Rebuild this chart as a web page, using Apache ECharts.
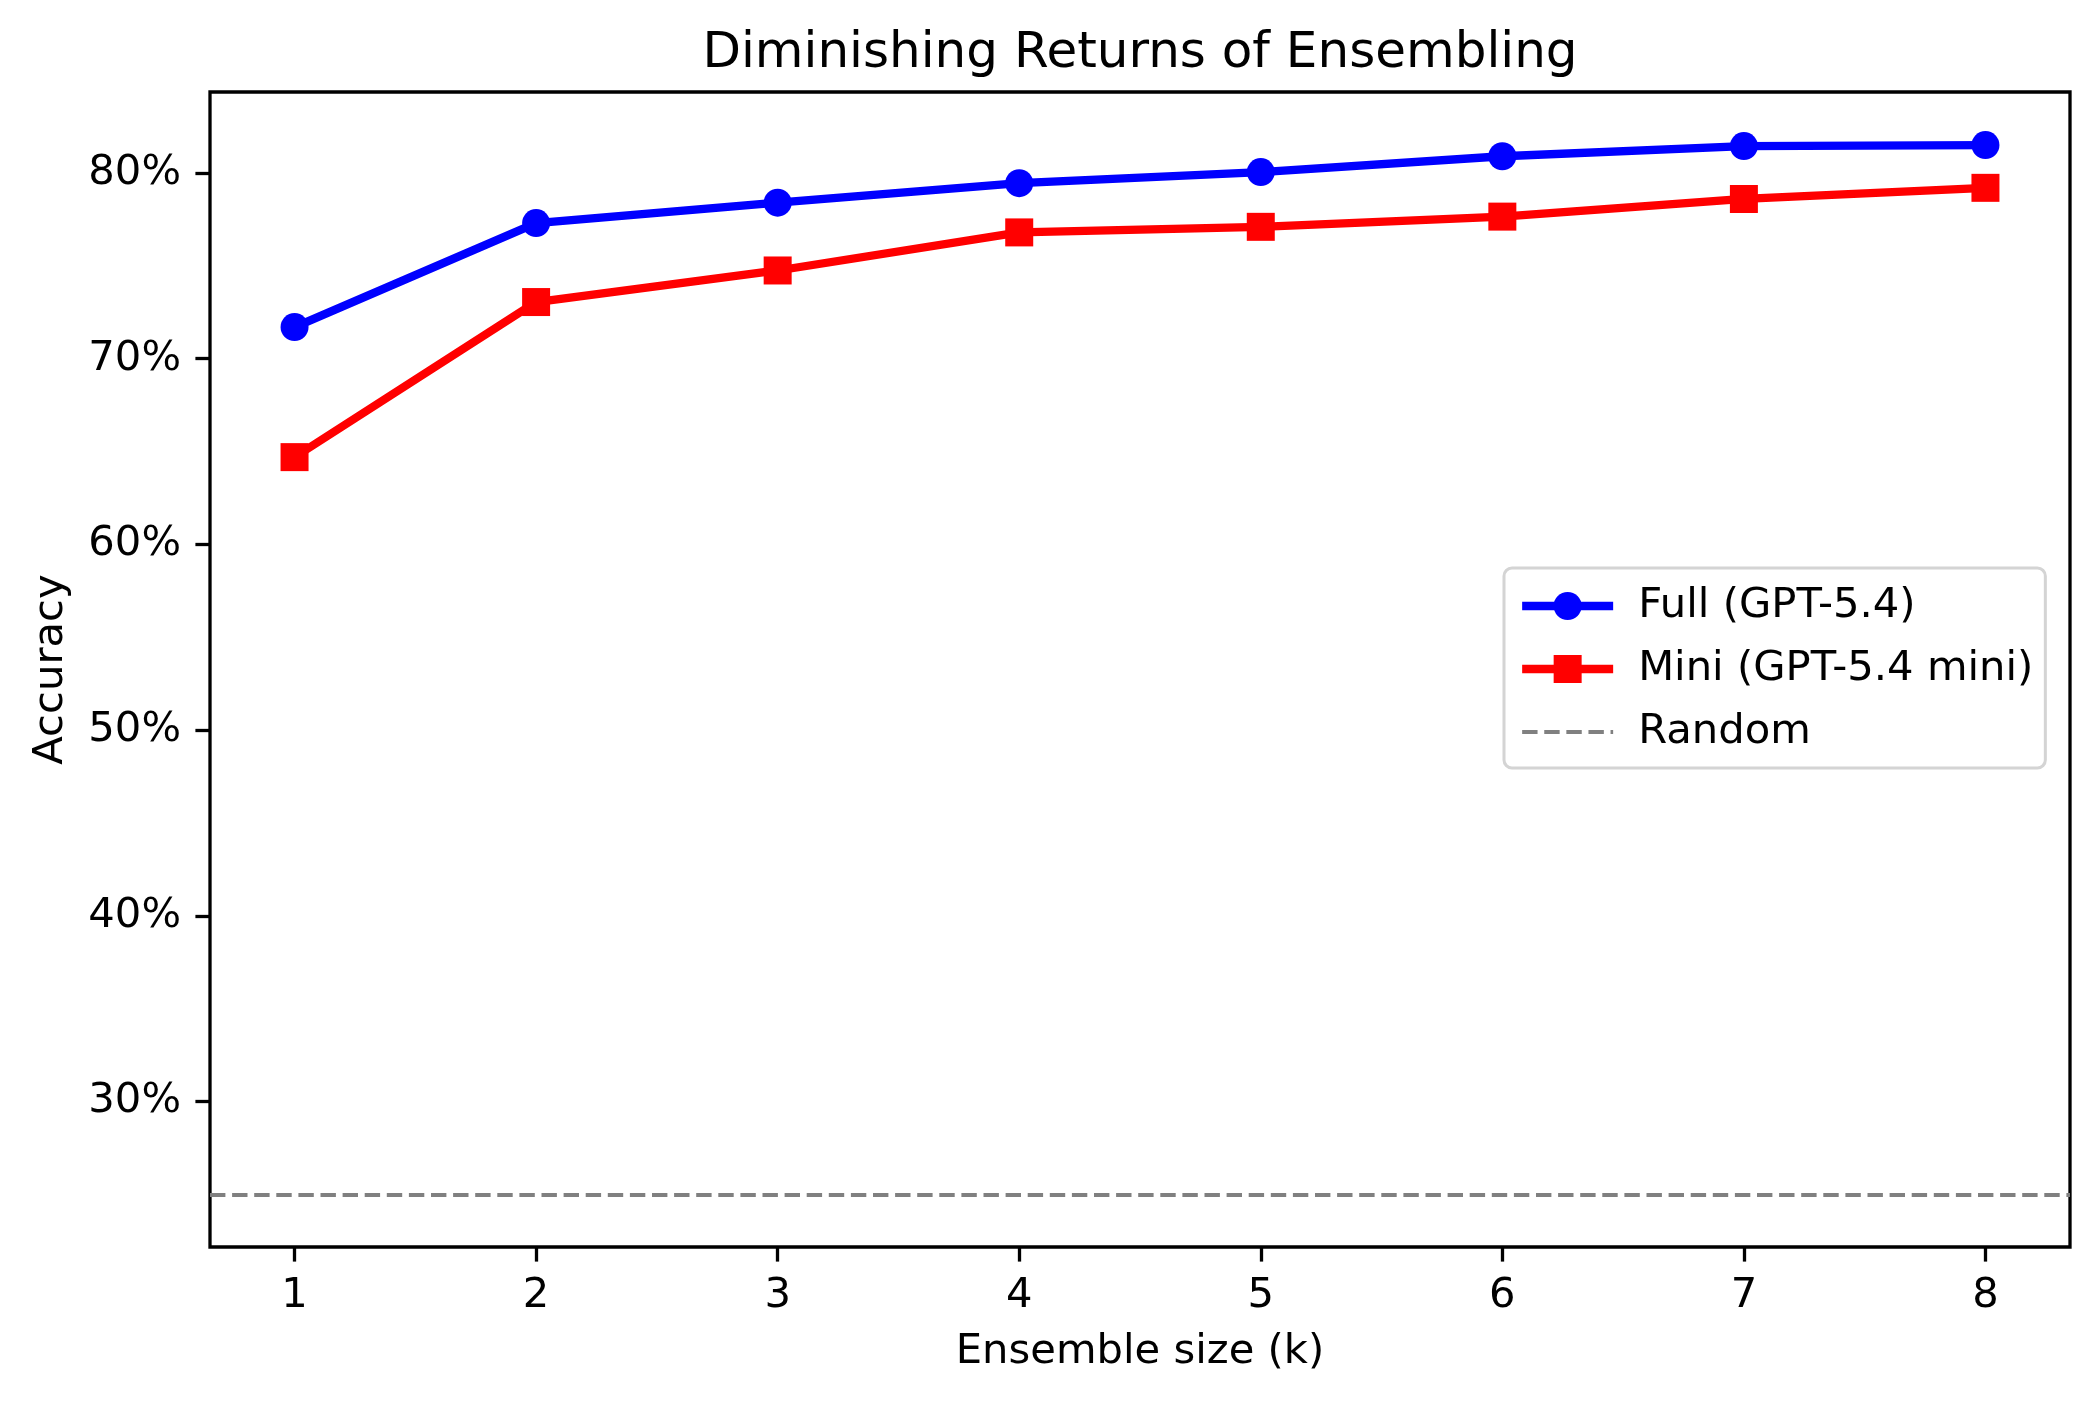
<!DOCTYPE html>
<html>
<head>
<meta charset="utf-8">
<script src="https://cdn.jsdelivr.net/npm/echarts@6/dist/echarts.min.js"></script>
<style>
html, body { margin: 0; padding: 0; background: #fff; }
#chart { width: 2100px; height: 1407px; }
</style>
</head>
<body>
<div id="chart"></div>
<script>
var myChart = echarts.init(document.getElementById('chart'));

// data (accuracy in %)
var ensembleSizes = [1, 2, 3, 4, 5, 6, 7, 8];
var fullAcc = [71.7, 77.3, 78.4, 79.45, 80.05, 80.9, 81.45, 81.5];
var miniAcc = [64.7, 73.05, 74.75, 76.8, 77.1, 77.65, 78.6, 79.2];
var randomBaseline = 25;
var yTicks = [30, 40, 50, 60, 70, 80];
var xTicks = [1, 2, 3, 4, 5, 6, 7, 8];

var fontFamily = 'DejaVu Sans';

function pairs(xs, ys) {
    var out = [];
    for (var i = 0; i < xs.length; i++) {
        out.push([xs[i], ys[i]]);
    }
    return out;
}

myChart.setOption({
    backgroundColor: '#fff',
    animation: false,
    textStyle: { fontFamily: fontFamily },
    title: {
        text: 'Diminishing Returns of Ensembling',
        left: 1135,
        top: 24,
        textAlign: 'center',
        textStyle: { fontFamily: fontFamily, fontSize: 50, fontWeight: 'normal', color: '#000' }
    },
    legend: {
        orient: 'vertical',
        left: 1504,
        top: 568,
        padding: [17, 12, 15, 14],
        itemWidth: 91,
        itemHeight: 35,
        itemGap: 21,
        backgroundColor: 'rgba(255,255,255,0.8)',
        borderColor: '#d4d4d4',
        borderWidth: 3,
        borderRadius: 8,
        textStyle: { fontFamily: fontFamily, fontSize: 41.7, lineHeight: 35, color: '#000', padding: [0, 0, 0, 20] },
        data: [
            { name: 'Full (GPT-5.4)', lineStyle: { width: 8.3 } },
            { name: 'Mini (GPT-5.4 mini)', lineStyle: { width: 8.3 } },
            { name: 'Random', lineStyle: { width: 4 }, itemStyle: { opacity: 0 } }
        ]
    },
    grid: {
        left: 210,
        right: 30,
        top: 92,
        bottom: 160,
        show: true,
        borderColor: '#000',
        borderWidth: 3.3,
        containLabel: false
    },
    xAxis: {
        type: 'value',
        min: 0.65,
        max: 8.35,
        name: 'Ensemble size (k)',
        nameLocation: 'middle',
        nameGap: 84,
        nameTextStyle: { fontFamily: fontFamily, fontSize: 41.7, color: '#000' },
        axisLine: { show: false },
        splitLine: { show: false },
        axisTick: { show: true, length: 14.6, lineStyle: { color: '#000', width: 3.3 }, customValues: xTicks },
        axisLabel: { margin: 28, fontSize: 41.7, color: '#000', fontFamily: fontFamily, customValues: xTicks }
    },
    yAxis: {
        type: 'value',
        min: 22.17,
        max: 84.36,
        name: 'Accuracy',
        nameLocation: 'middle',
        nameGap: 138,
        nameRotate: 90,
        nameTextStyle: { fontFamily: fontFamily, fontSize: 41.7, color: '#000' },
        axisLine: { show: false },
        splitLine: { show: false },
        axisTick: { show: true, length: 14.6, lineStyle: { color: '#000', width: 3.3 }, customValues: yTicks },
        axisLabel: {
            margin: 29, fontSize: 41.7, color: '#000', fontFamily: fontFamily, customValues: yTicks,
            formatter: function (v) { return v + '%'; }
        }
    },
    series: [
        {
            name: 'Full (GPT-5.4)',
            type: 'line',
            data: pairs(ensembleSizes, fullAcc),
            symbol: 'circle',
            symbolSize: 28,
            itemStyle: { color: '#0000ff' },
            lineStyle: { color: '#0000ff', width: 8.3 }
        },
        {
            name: 'Mini (GPT-5.4 mini)',
            type: 'line',
            data: pairs(ensembleSizes, miniAcc),
            symbol: 'rect',
            symbolSize: 28,
            itemStyle: { color: '#ff0000' },
            lineStyle: { color: '#ff0000', width: 8.3 }
        },
        {
            name: 'Random',
            type: 'line',
            data: [],
            symbol: 'none',
            itemStyle: { color: '#808080' },
            lineStyle: { color: '#808080', width: 4, type: [15.4, 6.7] },
            markLine: {
                silent: true,
                symbol: 'none',
                label: { show: false },
                lineStyle: { color: '#808080', width: 4, type: [15.4, 6.7] },
                data: [{ yAxis: randomBaseline }]
            }
        }
    ]
});
</script>
</body>
</html>
